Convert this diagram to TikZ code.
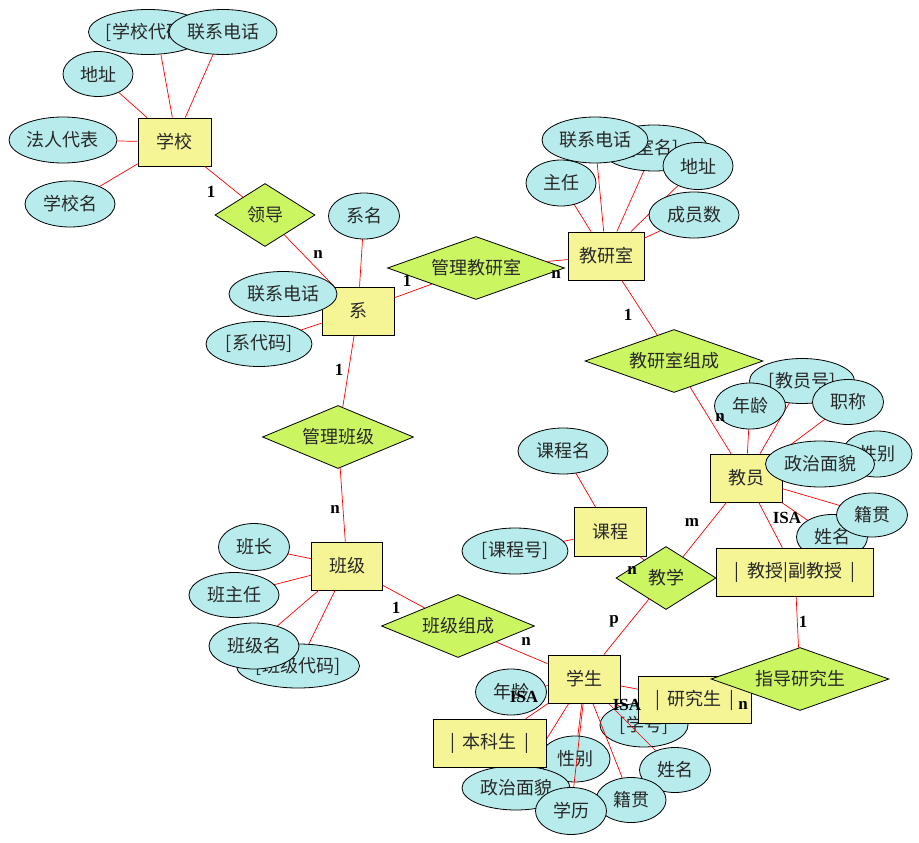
\documentclass[tikz,border=0pt]{standalone}
\usepackage{fontspec}
\setmainfont{Liberation Serif}
\newfontfamily\cjk{Noto Sans CJK SC}
\usetikzlibrary{shapes.geometric}
\definecolor{attrfill}{RGB}{184,236,236}
\definecolor{entfill}{RGB}{245,245,150}
\definecolor{relfill}{RGB}{204,245,98}
\definecolor{txt}{RGB}{40,40,40}
\tikzset{
  attr/.style={ellipse, draw=black, line width=0.8pt, fill=attrfill, inner sep=0pt,
    minimum height=46pt, text=txt, font=\cjk\fontsize{18}{18}\selectfont},
  ent/.style={rectangle, draw=black, line width=0.8pt, fill=entfill, inner sep=0pt,
    minimum width=72pt, minimum height=48pt, text=txt, font=\cjk\fontsize{18}{18}\selectfont},
  rel/.style={diamond, shape aspect=2.6, draw=black, line width=0.8pt, fill=relfill, inner sep=0pt,
    minimum height=63pt, text=txt, font=\cjk\fontsize{18}{18}\selectfont},
  lnk/.style={draw=red, line width=0.7pt},
  card/.style={inner sep=0pt, font=\bfseries\fontsize{17}{17}\selectfont},
}
\begin{document}
\begin{tikzpicture}[x=1pt, y=-1pt]
\path[use as bounding box, fill=white] (0,0) rectangle (919,843);

% ---------- entity boxes ----------
\node[ent, minimum width=73pt] (school) at (174.5,142) {学校};
\node[ent] (xi) at (358,311) {系};
\node[ent, minimum width=76pt] (jys) at (606,256) {教研室};
\node[ent] (jy) at (746,478) {教员};
\node[ent, minimum height=49pt] (kc) at (610,532) {课程};
\node[ent, minimum width=71pt] (bj) at (347,566) {班级};
\node[ent] (xs) at (584,679) {学生};

% ---------- relationship diamonds ----------
\node[rel, minimum width=100pt] (lingdao) at (265,215) {领导};
\node[rel, minimum width=177pt] (gljys) at (476,268) {管理教研室};
\node[rel, minimum width=178pt] (jyszc) at (674,361) {教研室组成};
\node[rel, minimum width=151pt] (glbj) at (338,437) {管理班级};
\node[rel, minimum width=153pt] (bjzc) at (458,626) {班级组成};
\node[rel, minimum width=100pt] (jx) at (666,578) {教学};

% ---------- relationship links ----------
\path[lnk] (school) -- (lingdao);
\path[lnk] (lingdao) -- (xi);
\path[lnk] (xi) -- (gljys);
\path[lnk] (gljys) -- (jys);
\path[lnk] (jys) -- (jyszc);
\path[lnk] (jyszc) -- (jy);
\path[lnk] (xi) -- (glbj);
\path[lnk] (glbj) -- (bj);
\path[lnk] (bj) -- (bjzc);
\path[lnk] (bjzc) -- (xs);
\path[lnk] (jy) -- (jx);
\path[lnk] (kc) -- (jx);
\path[lnk] (jx) -- (xs);

% school attributes
\node[attr, minimum width=100pt, minimum height=45pt] (xxdm) at (148,32) {[学校代码]};
\node[attr, minimum width=108pt, minimum height=45pt] (xxdh) at (223,32) {联系电话};
\node[attr, minimum width=70pt, minimum height=45pt] (xxdz) at (98,74) {地址};
\node[attr, minimum width=108pt] (frdb) at (63,140) {法人代表};
\node[attr, minimum width=90pt] (xxm) at (70,204) {学校名};
\path[lnk] (xxdm.-60) -- (school.95);
\path[lnk] (xxdh) -- (school);
\path[lnk] (xxdz) -- (school);
\path[lnk] (frdb) -- (school);
\path[lnk] (xxm) -- (school);

% department attributes
\path[lnk] (364,216) -- (xi);
\path[lnk] (283,294) -- (xi);
\path[lnk] (259,344) -- (xi);
\node[attr, minimum width=71pt] (xim) at (364,216) {系名};
\node[attr, minimum width=108pt, minimum height=45pt] (xidh) at (283,294) {联系电话};
\node[attr, minimum width=106pt, minimum height=45pt] (xidm) at (259,344) {[系代码]};

% teaching-office attributes
\path[lnk] (561,183) -- (jys);
\path[lnk] (595,140) -- (jys);
\path[lnk] (654,148) -- (jys);
\path[lnk] (698,166) -- (jys);
\path[lnk] (694,215) -- (jys);
\node[attr, minimum width=70pt] (zr) at (561,183) {主任};
\node[attr, minimum width=107pt] (jysm) at (654,148) {[室名]};
\node[attr, minimum width=106pt] (jysdh) at (595,140) {联系电话};
\node[attr, minimum width=70pt, minimum height=47pt] (jysdz) at (698,166) {地址};
\node[attr, minimum width=90pt] (cys) at (694,215) {成员数};

% course attributes
\path[lnk] (563,451) -- (kc);
\path[lnk] (515,551) -- (kc);
\node[attr, minimum width=90pt] (kcm) at (563,451) {课程名};
\node[attr, minimum width=106pt] (kch) at (515,551) {[课程号]};

% class attributes
\path[lnk] (254,547) -- (bj);
\path[lnk] (234,595) -- (bj);
\path[lnk] (298,666) -- (bj);
\path[lnk] (254,646) -- (bj);
\node[attr, minimum width=71pt, minimum height=47pt] (bz) at (254,547) {班长};
\node[attr, minimum width=90pt, minimum height=45pt] (bzr) at (234,595) {班主任};
\node[attr, minimum width=123pt, minimum height=44pt] (bjdm) at (298,666) {[班级代码]};
\node[attr, minimum width=90pt] (bjm) at (254,646) {班级名};

% teacher attributes
\path[lnk] (802,381) -- (jy);
\path[lnk] (750,406) -- (jy);
\path[lnk] (848,402) -- (jy);
\path[lnk] (877,454) -- (jy);
\path[lnk] (820,464) -- (jy);
\path[lnk] (872,515) -- (jy);
\path[lnk] (832,537) -- (jy);
\node[attr, minimum width=105pt, minimum height=45pt] (jyh) at (802,381) {[教员号]};
\node[attr, minimum width=71pt] (jynl) at (750,406) {年龄};
\node[attr, minimum width=71pt, minimum height=45pt] (zc) at (848,402) {职称};
\node[attr, minimum width=70pt] (jyxb) at (877,454) {性别};
\node[attr, minimum width=109pt] (jyzz) at (820,464) {政治面貌};
\node[attr, minimum width=71pt, minimum height=45pt] (jyxm) at (832,537) {姓名};
\node[attr, minimum width=71pt, minimum height=44pt] (jyjg) at (872,515) {籍贯};

% professor subtype
\node[ent, minimum width=157pt] (jsfjs) at (795,572) {|\hspace{8pt}教授|副教授\hspace{8pt}|};
\path[lnk] (jy) -- (jsfjs);

% student attributes
\node[attr, minimum width=70pt] (xsxb) at (575,759) {性别};
\node[attr, minimum width=108pt, minimum height=44pt] (xszz) at (516,788) {政治面貌};
\node[attr, minimum width=71pt, minimum height=45pt] (xsxm) at (675,770) {姓名};
\node[attr, minimum width=70pt, minimum height=45pt] (xsjg) at (631,800) {籍贯};
\node[attr, minimum width=71pt, minimum height=47pt] (xl) at (571,811) {学历};
\node[attr, minimum width=88pt, minimum height=44pt] (xh) at (644,725) {[学号]};
\node[attr, minimum width=71pt] (xsnl) at (511,692) {年龄};
\path[lnk] (xs) -- (xsnl);
\path[lnk] (xs) -- (xszz);
\path[lnk] (xs.-95) -- (xsxb);
\path[lnk] (xs.-92) -- (xl);
\path[lnk] (xs.-70) -- (xsjg);
\path[lnk] (xs) -- (xsxm);
\path[lnk] (xs) -- (xh);
\node[ent] at (584,679) {学生};

% student subtypes
\node[ent, minimum width=113pt] (bks) at (490,743) {|\hspace{8pt}本科生\hspace{8pt}|};
\path[lnk] (xs) -- (bks);
\node[ent, minimum width=113pt, minimum height=47pt] (yjs) at (695,700) {|\hspace{8pt}研究生\hspace{8pt}|};
\path[lnk] (xs) -- (yjs);
\node[rel, minimum width=178pt] (zdyjs) at (800,679) {指导研究生};
\path[lnk] (jsfjs) -- (zdyjs);

% cardinalities
\node[card] (c1) at (211,192) {1};
\node[card] (c2) at (318,254) {n};
\node[card] (c3) at (407,281) {1};
\node[card] (c4) at (556,274) {n};
\node[card] (c5) at (628,315) {1};
\node[card] (c6) at (720,417) {n};
\node[card] (c7) at (339,370) {1};
\node[card] (c8) at (335,509) {n};
\node[card] (c9) at (396,608) {1};
\node[card] (c10) at (526,641) {n};
\node[card] (c11) at (692,522) {m};
\node[card] (c12) at (632,570) {n};
\node[card] (c13) at (614,621) {p};
\node[card] (c14) at (803,622) {1};
\node[card] (c15) at (743,705) {n};
\node[card] (isa1) at (787,518) {ISA};
\node[card] (isa2) at (524,697) {ISA};
\node[card] (isa3) at (627,705) {ISA};
\end{tikzpicture}
\end{document}
